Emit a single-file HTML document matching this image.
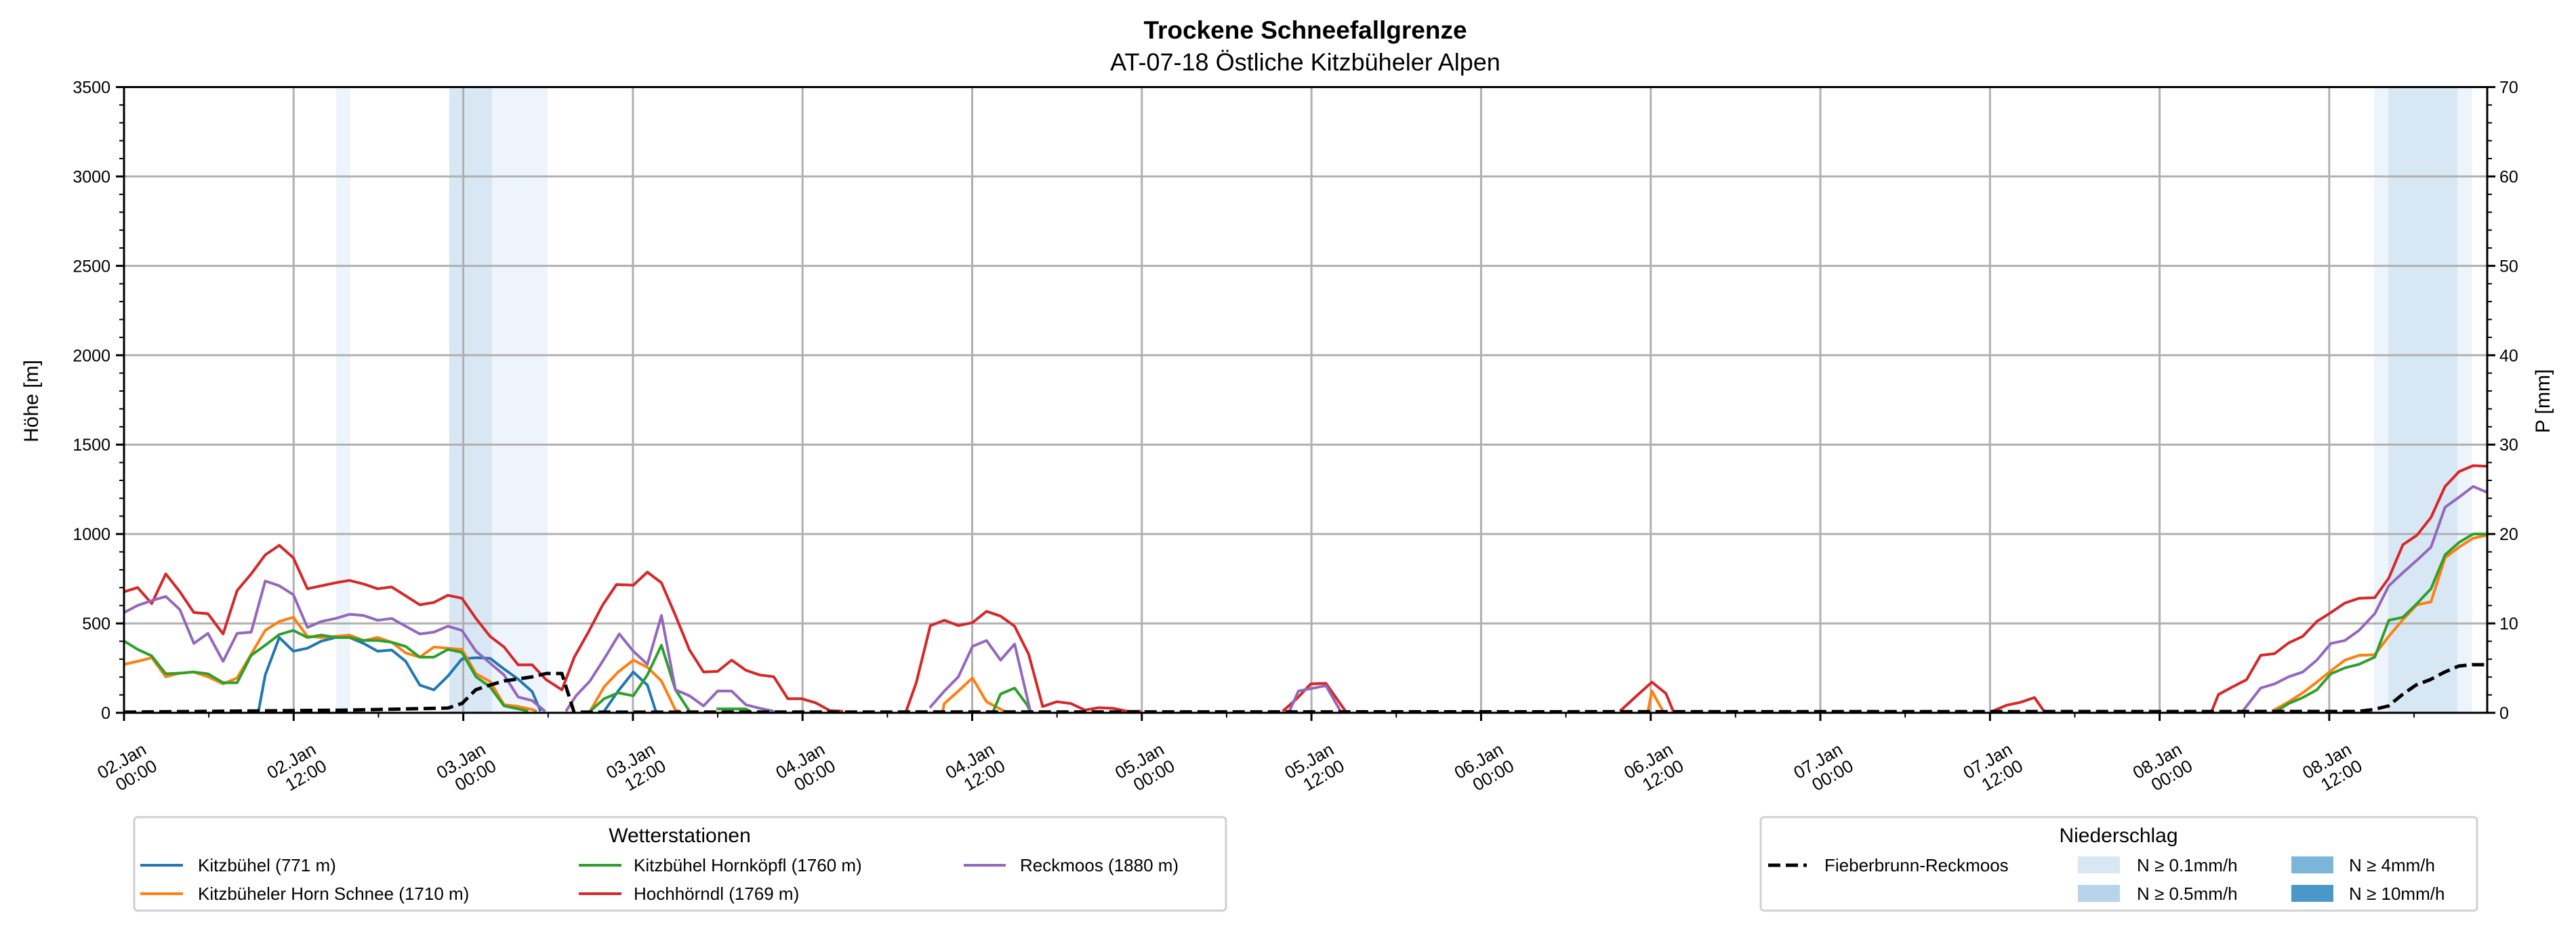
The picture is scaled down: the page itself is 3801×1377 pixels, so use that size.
<!DOCTYPE html>
<html><head><meta charset="utf-8"><style>html,body{margin:0;padding:0;background:#fff}svg{display:block}text{font-family:"Liberation Sans","DejaVu Sans",sans-serif;fill:#000}</style></head><body>
<svg width="3801" height="1377" viewBox="0 0 3801 1377" xmlns="http://www.w3.org/2000/svg">
<rect width="3801" height="1377" fill="#fff"/>
<rect x="496" y="128.5" width="21" height="923.5" fill="#eef4fb"/>
<rect x="663" y="128.5" width="63" height="923.5" fill="#d8e7f4"/>
<rect x="726" y="128.5" width="82" height="923.5" fill="#eef4fb"/>
<rect x="3503" y="128.5" width="21" height="923.5" fill="#eef4fb"/>
<rect x="3524" y="128.5" width="102" height="923.5" fill="#d8e7f4"/>
<rect x="3626" y="128.5" width="22" height="923.5" fill="#eef4fb"/>
<g stroke="#b0b0b0" stroke-width="3" id="grid"></g>
<g fill="none" stroke-width="4" stroke-linejoin="round">
<g transform="translate(0,0) scale(0.8292,0.8777)">
<polyline vector-effect="non-scaling-stroke" stroke="#1f77b4" points="460,1196 472,1135 497,1072 522,1095 547,1090 572,1078 597,1072 622,1072 647,1082 672,1095 697,1093 722,1112 747,1152 772,1160 797,1137 822,1108 847,1106 872,1107 897,1125 922,1142 947,1163 962,1196"/>
<polyline vector-effect="non-scaling-stroke" stroke="#1f77b4" points="1075,1196 1100,1162 1127,1130 1152,1152 1167,1196"/>
<polyline vector-effect="non-scaling-stroke" stroke="#ff7f0e" points="221,1117 245,1112 270,1106 295,1138 320,1132 345,1130 370,1138 397,1150 422,1140 447,1100 472,1060 497,1045 522,1038 547,1070 572,1072 597,1070 622,1068 647,1077 672,1072 697,1080 722,1098 747,1105 772,1088 797,1090 822,1092 847,1133 872,1146 897,1185 922,1188 947,1193 955,1196"/>
<polyline vector-effect="non-scaling-stroke" stroke="#ff7f0e" points="1050,1196 1075,1155 1100,1130 1127,1110 1152,1122 1177,1145 1202,1194 1210,1196"/>
<polyline vector-effect="non-scaling-stroke" stroke="#2ca02c" points="221,1078 245,1092 270,1103 295,1133 320,1132 345,1130 370,1133 397,1148 422,1148 447,1102 472,1085 497,1067 522,1060 547,1072 572,1068 597,1072 622,1072 647,1077 672,1077 697,1080 722,1087 747,1105 772,1105 797,1092 822,1097 847,1138 872,1155 897,1187 922,1192 940,1196"/>
<polyline vector-effect="non-scaling-stroke" stroke="#2ca02c" points="1050,1196 1075,1175 1100,1165 1127,1170 1152,1135 1177,1085 1202,1160 1227,1196"/>
<polyline vector-effect="non-scaling-stroke" stroke="#2ca02c" points="1275,1192 1327,1192 1335,1196"/>
<polyline vector-effect="non-scaling-stroke" stroke="#d62728" points="221,995 245,988 270,1015 295,965 320,995 345,1030 370,1032 397,1066 422,993 447,965 472,933 497,917 522,938 547,990 597,980 622,976 647,982 672,990 697,987 722,1002 747,1017 772,1013 797,1001 822,1006 847,1040 872,1070 897,1088 922,1118 947,1118 972,1143 1000,1160 1022,1105 1047,1063 1072,1018 1097,983 1127,984 1152,962 1177,980 1202,1035 1227,1093 1252,1130 1277,1129 1302,1110 1327,1127 1352,1135 1377,1138 1402,1175 1427,1175 1452,1182 1477,1195 1500,1196"/>
<polyline vector-effect="non-scaling-stroke" stroke="#9467bd" points="221,1030 245,1018 270,1010 295,1003 320,1025 345,1082 370,1065 397,1112 422,1065 447,1063 472,977 497,985 522,1000 547,1055 572,1045 597,1040 622,1033 647,1035 672,1043 697,1040 722,1053 747,1066 772,1063 797,1053 822,1060 847,1095 872,1115 897,1135 922,1172 947,1178 970,1196"/>
<polyline vector-effect="non-scaling-stroke" stroke="#9467bd" points="1007,1196 1025,1170 1050,1145 1077,1105 1102,1066 1127,1095 1152,1117 1177,1035 1202,1160 1227,1170 1252,1187 1277,1162 1302,1162 1327,1185 1352,1191 1377,1196"/>
</g>
<g transform="translate(1250,0) scale(0.8292,0.8777)">
<polyline vector-effect="non-scaling-stroke" stroke="#ff7f0e" points="170,1196 173,1183 198,1162 223,1140 248,1180 280,1196"/>
<polyline vector-effect="non-scaling-stroke" stroke="#ff7f0e" points="1425,1196 1432,1162 1452,1196"/>
<polyline vector-effect="non-scaling-stroke" stroke="#2ca02c" points="260,1196 273,1167 298,1157 320,1185 326,1196"/>
<polyline vector-effect="non-scaling-stroke" stroke="#d62728" points="105,1196 123,1148 148,1052 173,1043 198,1052 223,1047 248,1028 273,1036 298,1053 323,1100 348,1188 373,1180 398,1183 423,1194 448,1190 473,1191 498,1196 523,1196"/>
<polyline vector-effect="non-scaling-stroke" stroke="#d62728" points="775,1196 800,1175 825,1150 852,1149 887,1196"/>
<polyline vector-effect="non-scaling-stroke" stroke="#d62728" points="1375,1196 1405,1170 1432,1147 1457,1166 1470,1196"/>
<polyline vector-effect="non-scaling-stroke" stroke="#9467bd" points="147,1190 173,1162 198,1138 223,1087 248,1077 273,1110 298,1083 326,1196"/>
<polyline vector-effect="non-scaling-stroke" stroke="#9467bd" points="787,1196 803,1162 852,1153 878,1196"/>
</g>
<g transform="translate(2500,0) scale(0.8298,0.8777)">
<polyline vector-effect="non-scaling-stroke" stroke="#ff7f0e" points="1027,1196 1057,1180 1082,1165 1107,1147 1132,1128 1157,1110 1182,1102 1210,1101 1235,1070 1260,1042 1285,1017 1310,1012 1335,938 1360,920 1385,905 1410,900"/>
<polyline vector-effect="non-scaling-stroke" stroke="#2ca02c" points="1035,1196 1057,1183 1082,1173 1107,1160 1132,1133 1157,1123 1182,1117 1210,1105 1235,1043 1260,1038 1285,1015 1310,990 1335,933 1360,912 1385,898 1410,898"/>
<polyline vector-effect="non-scaling-stroke" stroke="#d62728" points="530,1196 555,1186 580,1181 605,1173 622,1196"/>
<polyline vector-effect="non-scaling-stroke" stroke="#d62728" points="920,1196 932,1168 957,1155 982,1143 1007,1102 1032,1099 1057,1081 1082,1070 1107,1045 1132,1030 1157,1014 1182,1006 1210,1005 1235,972 1260,916 1285,900 1310,870 1335,818 1360,793 1385,783 1410,784"/>
<polyline vector-effect="non-scaling-stroke" stroke="#9467bd" points="975,1196 1007,1157 1032,1150 1057,1138 1082,1130 1107,1110 1132,1082 1157,1077 1182,1060 1210,1032 1235,985 1260,963 1285,942 1310,920 1335,853 1360,836 1385,818 1410,828"/>
</g>
<polyline stroke="#000" stroke-width="5" stroke-dasharray="18,8" points="183,1051 516,1048 661,1045 682,1038 702,1018 723,1011 744,1005 765,1002 785,999 806,994 829,994 847,1051 3480,1050 3503,1047 3524,1042 3545,1025 3565,1011 3586,1003 3607,992 3628,983 3648,981 3670,981"/>
</g>
<rect x="183" y="128.5" width="3487" height="923.5" fill="none" stroke="#000" stroke-width="3"/>
<g id="ticks" stroke="#000"></g>
<g id="labels" font-size="25"></g>
<text x="1926" y="57" font-size="37" font-weight="bold" text-anchor="middle">Trockene Schneefallgrenze</text>
<text x="1926" y="104" font-size="36" text-anchor="middle">AT-07-18 Östliche Kitzbüheler Alpen</text>
<text transform="translate(56,592) rotate(-90)" font-size="30" text-anchor="middle">Höhe [m]</text>
<text transform="translate(3762,592) rotate(-90)" font-size="30" text-anchor="middle">P [mm]</text>
<rect x="198" y="1206" width="1611" height="138" rx="5" fill="#fff" stroke="#d0d0d0" stroke-width="3"/>
<text x="1003" y="1243" font-size="30" text-anchor="middle">Wetterstationen</text>
<g stroke-width="4">
<line x1="207" y1="1277" x2="270" y2="1277" stroke="#1f77b4"/>
<line x1="207" y1="1319" x2="270" y2="1319" stroke="#ff7f0e"/>
<line x1="854" y1="1277" x2="917" y2="1277" stroke="#2ca02c"/>
<line x1="854" y1="1319" x2="917" y2="1319" stroke="#d62728"/>
<line x1="1422" y1="1277" x2="1484" y2="1277" stroke="#9467bd"/>
</g>
<g font-size="26">
<text x="292" y="1286">Kitzbühel (771 m)</text>
<text x="292" y="1328">Kitzbüheler Horn Schnee (1710 m)</text>
<text x="935" y="1286">Kitzbühel Hornköpfl (1760 m)</text>
<text x="935" y="1328">Hochhörndl (1769 m)</text>
<text x="1505" y="1286">Reckmoos (1880 m)</text>
</g>
<rect x="2598" y="1206" width="1057" height="138" rx="5" fill="#fff" stroke="#d0d0d0" stroke-width="3"/>
<text x="3126" y="1243" font-size="30" text-anchor="middle">Niederschlag</text>
<line x1="2609" y1="1277" x2="2666" y2="1277" stroke="#000" stroke-width="5" stroke-dasharray="18,8"/>
<rect x="3066" y="1264" width="62" height="25" fill="#d8e7f4"/>
<rect x="3066" y="1306" width="62" height="25" fill="#b8d4ea"/>
<rect x="3381" y="1264" width="62" height="25" fill="#7cb5da"/>
<rect x="3381" y="1306" width="62" height="25" fill="#4a97c9"/>
<g font-size="26">
<text x="2692" y="1286">Fieberbrunn-Reckmoos</text>
<text x="3153" y="1286">N ≥ 0.1mm/h</text>
<text x="3153" y="1328">N ≥ 0.5mm/h</text>
<text x="3466" y="1286">N ≥ 4mm/h</text>
<text x="3466" y="1328">N ≥ 10mm/h</text>
</g>
<script>
(function(){
var NS="http://www.w3.org/2000/svg";
function el(p,t,a,txt){var e=document.createElementNS(NS,t);for(var k in a)e.setAttribute(k,a[k]);if(txt!=null)e.textContent=txt;document.getElementById(p).appendChild(e);return e;}
var L=183,R=3670,T=128.5,B=1052,hx=250.3,py=(B-T)/3500;
for(var k=0;k<=13;k++){var x=L+k*hx;el("grid","line",{x1:x,y1:T,x2:x,y2:B});}
for(var m=500;m<3500;m+=500){var y=B-m*py;el("grid","line",{x1:L,y1:y,x2:R,y2:y});}
for(var k=0;k<=27;k++){var x=L+k*hx/2;if(x>R)break;var maj=k%2==0;el("ticks","line",{x1:x,y1:B,x2:x,y2:B+(maj?12:7),"stroke-width":maj?3:2});}
for(var m=0;m<=3500;m+=100){var y=B-m*py;var maj=m%500==0;el("ticks","line",{x1:L,y1:y,x2:L-(maj?12:7),y2:y,"stroke-width":maj?3:2});el("ticks","line",{x1:R,y1:y,x2:R+(maj?12:7),y2:y,"stroke-width":maj?3:2});
if(maj){el("labels","text",{x:L-20,y:y+9,"text-anchor":"end"},String(m));el("labels","text",{x:R+18,y:y+9},String(m/50));}}
var days=["02","02","03","03","04","04","05","05","06","06","07","07","08","08"];
for(var k=0;k<=13;k++){var x=L+k*hx+4,y=1136;var t=el("labels","text",{transform:"translate("+x+","+y+") rotate(-30)","text-anchor":"middle","font-size":"26"});
var a=document.createElementNS(NS,"tspan");a.setAttribute("x",0);a.setAttribute("y",-6);a.textContent=days[k]+".Jan";t.appendChild(a);
var b=document.createElementNS(NS,"tspan");b.setAttribute("x",8);b.setAttribute("y",23);b.textContent=(k%2?"12:00":"00:00");t.appendChild(b);}
})();
</script>
</svg>
</body></html>
